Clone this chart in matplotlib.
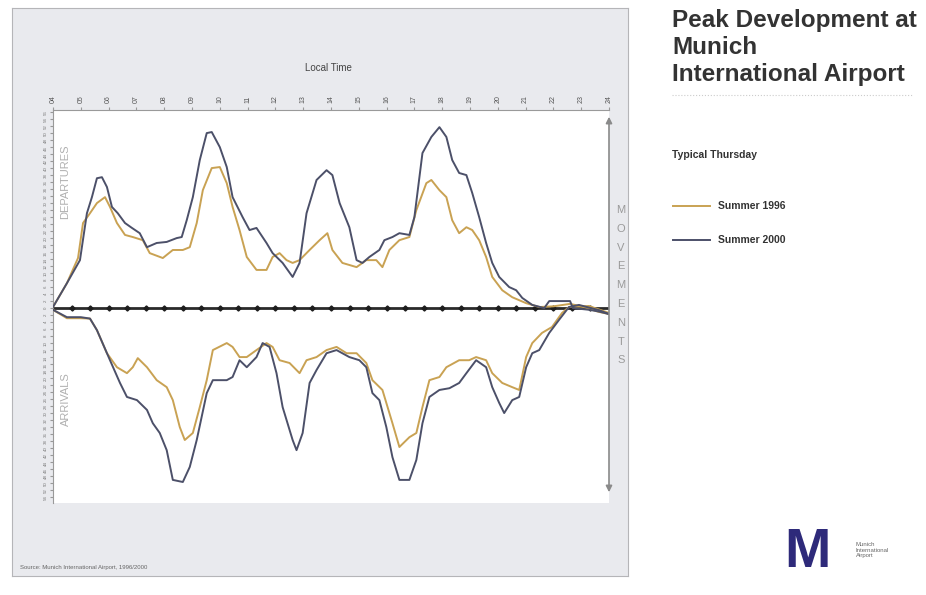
import numpy as np
import matplotlib
matplotlib.use("Agg")
import matplotlib.pyplot as plt
from matplotlib.patches import FancyArrowPatch
from matplotlib.lines import Line2D

plt.rcParams['font.family'] = ['Liberation Sans', 'DejaVu Sans']

# ---------------- data (hour of day, movements) ----------------
hours = list(range(4, 25))
hour_labels = [f"{h:02d}" for h in hours]

dep_2000_t = [4.00, 4.50, 4.97, 5.22, 5.40, 5.58, 5.76, 5.94, 6.12, 6.33, 6.59, 6.84, 7.12, 7.38, 7.73,
              8.09, 8.45, 8.63, 8.81, 9.03, 9.28, 9.53, 9.71, 10.00, 10.25, 10.46, 10.82, 11.07, 11.32,
              11.68, 11.90, 12.26, 12.62, 12.87, 13.12, 13.48, 13.84, 14.05, 14.31, 14.66, 14.92, 15.13,
              15.38, 15.74, 15.92, 16.21, 16.46, 16.82, 17.00, 17.29, 17.61, 17.90, 18.15, 18.36, 18.61,
              18.87, 19.08, 19.33, 19.58, 19.80, 20.05, 20.41, 20.66, 20.88, 21.24, 21.67, 21.85, 22.6,
              22.7, 23.3, 23.64, 24.00]
dep_2000_v = [0.3, 7.1, 13.7, 27.1, 31.7, 37.1, 37.4, 34.6, 28.9, 27.1, 24.3, 22.9, 21.4, 17.4, 18.6,
              18.9, 20.0, 20.3, 25.1, 31.7, 42.3, 50.0, 50.3, 46.0, 40.3, 31.7, 26.0, 22.3, 22.9,
              18.6, 15.7, 12.9, 8.9, 12.9, 27.1, 36.6, 39.4, 38.0, 30.0, 23.1, 13.7, 12.9,
              14.6, 16.6, 19.4, 20.3, 21.4, 20.9, 26.0, 44.3, 48.9, 51.7, 48.9, 42.3, 38.6,
              38.0, 32.9, 26.0, 18.6, 12.9, 8.9, 6.0, 5.1, 2.9, 0.9, 0.0, 2.0, 2.0,
              0.0, -0.5, -1.0, -1.7]

dep_1996_t = [4.00, 4.50, 4.90, 5.08, 5.33, 5.58, 5.87, 6.05, 6.30, 6.59, 6.87, 7.23, 7.48, 7.95, 8.31,
              8.67, 8.92, 9.17, 9.39, 9.71, 10.00, 10.25, 10.46, 10.71, 10.97, 11.32, 11.68, 11.90,
              12.15, 12.40, 12.62, 12.87, 13.23, 13.59, 13.87, 14.05, 14.41, 14.92, 15.27, 15.63, 15.85,
              16.10, 16.46, 16.82, 17.07, 17.43, 17.61, 17.90, 18.15, 18.36, 18.61, 18.87, 19.08, 19.33,
              19.58, 19.80, 20.16, 20.52, 21.02, 21.49, 22.0, 22.6, 23.0, 23.64, 24.00]
dep_1996_v = [0.3, 7.1, 14.3, 24.3, 27.1, 30.0, 31.7, 28.9, 24.3, 20.9, 20.3, 19.4, 15.7, 14.3, 16.6,
              16.6, 17.4, 24.3, 33.7, 40.0, 40.3, 35.7, 28.9, 22.3, 14.6, 10.9, 10.9, 14.6,
              15.7, 13.7, 12.9, 13.7, 16.6, 19.4, 21.4, 16.6, 12.9, 11.7, 13.7, 13.7, 11.7,
              16.6, 19.4, 20.3, 28.0, 35.7, 36.6, 33.7, 31.7, 25.1, 21.4, 23.1, 22.3, 19.4,
              14.6, 8.9, 5.1, 3.1, 1.4, 0.3, 0.5, 1.2, 0.5, -1.1, -1.7]

arr_2000_t = [4.00, 4.50, 5.00, 5.33, 5.58, 6.05, 6.41, 6.66, 7.02, 7.38, 7.59, 7.84, 8.09, 8.31, 8.67,
              8.92, 9.17, 9.53, 9.75, 10.25, 10.46, 10.71, 10.97, 11.32, 11.54, 11.79, 12.04, 12.26,
              12.62, 12.76, 12.98, 13.23, 13.48, 13.84, 14.20, 14.66, 15.02, 15.27, 15.49, 15.74, 15.99,
              16.21, 16.46, 16.82, 17.07, 17.29, 17.54, 17.90, 18.26, 18.61, 18.87, 19.22, 19.58, 19.80,
              20.05, 20.23, 20.52, 20.77, 21.02, 21.24, 21.49, 21.85, 22.20, 22.56, 22.92, 23.64, 24.00]
arr_2000_v = [-0.5, -2.6, -2.6, -3.0, -6.3, -14.9, -21.4, -25.4, -26.3, -29.1, -32.9, -35.7, -40.6, -49.1, -49.7,
              -45.4, -37.7, -24.3, -20.6, -20.6, -19.7, -14.9, -16.9, -14.0, -10.0, -11.1, -18.6, -28.3,
              -37.7, -40.6, -35.7, -21.4, -17.7, -12.9, -12.0, -14.0, -14.9, -16.9, -24.3, -26.3, -34.0,
              -42.6, -49.1, -49.1, -43.4, -32.9, -25.4, -23.4, -22.9, -21.4, -18.6, -14.9, -16.9, -22.6,
              -27.1, -30.0, -26.3, -25.4, -16.9, -12.9, -12.0, -7.1, -3.4, 0.3, 0.9, -0.6, -1.7]

arr_1996_t = [4.00, 4.50, 5.00, 5.33, 5.58, 5.94, 6.30, 6.66, 6.87, 7.05, 7.38, 7.73, 8.09, 8.31, 8.56,
              8.74, 9.03, 9.28, 9.53, 9.75, 10.25, 10.46, 10.71, 10.97, 11.32, 11.68, 11.90, 12.15,
              12.51, 12.87, 13.12, 13.48, 13.84, 14.20, 14.56, 14.92, 15.27, 15.49, 15.85, 16.21, 16.46,
              16.82, 17.07, 17.29, 17.54, 17.90, 18.15, 18.61, 18.97, 19.22, 19.58, 19.80, 20.16, 20.52,
              20.77, 21.02, 21.24, 21.59, 21.95, 22.31, 22.56, 23.28, 24.00]
arr_1996_v = [-0.5, -2.9, -2.9, -3.0, -6.3, -12.9, -16.9, -18.6, -16.9, -14.3, -16.9, -20.6, -22.6, -26.3, -34.0,
              -37.7, -35.7, -28.3, -20.6, -12.0, -10.0, -11.1, -14.0, -14.0, -12.0, -10.0, -11.1, -14.9,
              -15.7, -18.6, -14.9, -14.0, -12.0, -11.1, -12.9, -12.9, -15.7, -20.6, -23.4, -32.9, -39.7,
              -36.9, -35.7, -28.3, -20.6, -19.7, -16.9, -14.9, -14.9, -14.0, -14.9, -18.6, -21.4, -22.6,
              -23.4, -14.0, -10.0, -7.1, -5.4, -1.4, 0.3, 0.6, -1.4]

series_names = ["Summer 1996", "Summer 2000"]
c1996 = "#c9a253"
c2000 = "#4c5069"

# ---------------- figure ----------------
W, H = 926, 595
fig = plt.figure(figsize=(W / 100, H / 100), dpi=100)
fig.patch.set_facecolor("white")

def fx(px):
    return px / W

def fy(py):
    return 1 - py / H

# grey panel (behind everything)
bg = fig.add_axes([fx(12), fy(576), fx(628) - fx(12), fy(8) - fy(576)], zorder=-5)
bg.set_facecolor("#e9eaee")
bg.set_xticks([])
bg.set_yticks([])
for s in bg.spines.values():
    s.set_color("#b5b5b8")
    s.set_linewidth(0.8)

ax = fig.add_axes([fx(53), fy(503), fx(609) - fx(53), fy(110) - fy(503)], zorder=1)
ax.set_facecolor("white")
ax.set_xlim(4, 24)
ax.set_ylim(-55.7, 56.6)

ax.plot(dep_1996_t, dep_1996_v, color=c1996, lw=1.4, zorder=3)
ax.plot(arr_1996_t, arr_1996_v, color=c1996, lw=1.4, zorder=3)
ax.plot(dep_2000_t, dep_2000_v, color=c2000, lw=1.4, zorder=4)
ax.plot(arr_2000_t, arr_2000_v, color=c2000, lw=1.4, zorder=4)

# zero axis with markers
ax.axhline(0, color="#2a2a2a", lw=2.0, zorder=2)
mk = np.arange(4 + 2 / 3, 24, 2 / 3)
ax.plot(mk, np.zeros_like(mk), ls="none", marker="D", ms=2.6, color="#1e1e1e", zorder=2)

# spines and ticks
for s in ["right", "bottom"]:
    ax.spines[s].set_visible(False)
ax.spines["top"].set_color("#9a9a9a")
ax.spines["left"].set_color("#9a9a9a")
ax.xaxis.tick_top()
ax.set_xticks(hours)
ax.set_xticklabels(hour_labels, rotation=90, fontsize=5, color="#555555")
ax.tick_params(axis="x", length=2, color="#999999", pad=3)
yt = np.arange(-54, 57, 2)
ax.set_yticks(yt)
ax.set_yticklabels([str(abs(int(v))) for v in yt], rotation=90, fontsize=3.2, color="#777777")
ax.tick_params(axis="y", length=2, color="#999999", pad=2)

ax.text(4.45, 36, "DEPARTURES", rotation=90, fontsize=8, color="#b0b0b0",
        ha="center", va="center")
ax.text(4.45, -26, "ARRIVALS", rotation=90, fontsize=8, color="#b0b0b0",
        ha="center", va="center")

fig.text(fx(328), fy(68), "Local Time", fontsize=7, color="#444444", ha="center", va="center")

# right double arrow
fig.add_artist(FancyArrowPatch((fx(609), fy(495)), (fx(609), fy(114)),
               transform=fig.transFigure, arrowstyle="<|-|>", mutation_scale=9,
               color="#8a8a8a", lw=1.2, zorder=5))
for i, ch in enumerate("MOVEMENTS"):
    fig.text(fx(621), fy(210 + i * 18.8), ch, fontsize=8, color="#9a9a9a",
             ha="center", va="center")

fig.text(fx(20), fy(567), "Source: Munich International Airport, 1996/2000",
         fontsize=4.3, color="#666666", ha="left", va="center")

# title block
for yy, line in [(20, "Peak Development at"), (47, "Munich"), (75, "International Airport")]:
    fig.text(fx(672), fy(yy), line, fontsize=17.5, fontweight="bold",
             color="#333333", ha="left", va="center")
fig.add_artist(Line2D([fx(672), fx(912)], [fy(95), fy(95)], transform=fig.transFigure,
                      color="#cccccc", lw=0.8, ls=":"))
fig.text(fx(672), fy(155), "Typical Thursday", fontsize=7.5, fontweight="bold",
         color="#333333", ha="left", va="center")

for yy, col, name in [(206, c1996, series_names[0]), (240, c2000, series_names[1])]:
    fig.add_artist(Line2D([fx(673), fx(710)], [fy(yy), fy(yy)], transform=fig.transFigure,
                          color=col, lw=1.4))
    fig.text(fx(718), fy(yy), name, fontsize=7.5, fontweight="bold",
             color="#333333", ha="left", va="center")

# logo
fig.text(fx(807), fy(553), "M", fontsize=40, fontweight="bold", color="#2e2a7a",
         ha="center", va="center")
fig.text(fx(856), fy(550), "Munich\nInternational\nAirport", fontsize=4.3,
         color="#666666", ha="left", va="center", linespacing=1.2)

fig.savefig("out.png", dpi=100)
